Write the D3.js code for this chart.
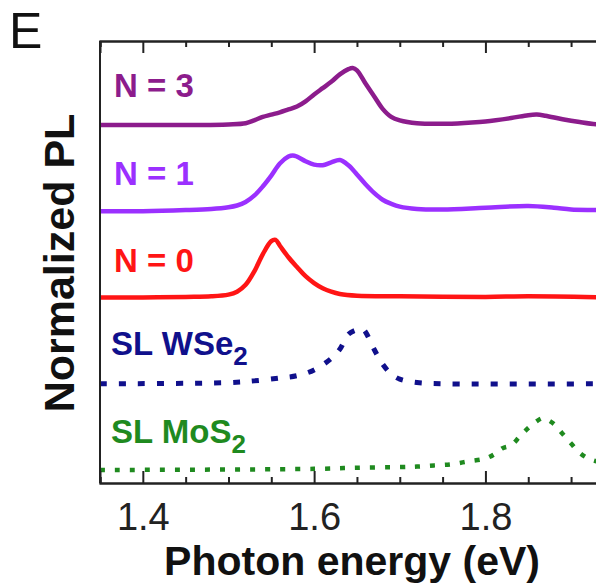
<!DOCTYPE html>
<html>
<head>
<meta charset="utf-8">
<script src="https://cdn.jsdelivr.net/npm/d3@7"></script>
<style>
  html, body { margin: 0; padding: 0; background: #fff; }
  svg { display: block; font-family: "Liberation Sans", Arial, sans-serif; }
</style>
</head>
<body>
<div id="container"></div>
<script>
// photon energy (eV) and normalized PL for each spectrum
var eN3 = [1.35, 1.45, 1.50, 1.52, 1.53, 1.54, 1.55, 1.56, 1.57, 1.58, 1.59, 1.60, 1.61, 1.62, 1.63, 1.64, 1.645, 1.65, 1.66, 1.67, 1.68, 1.69, 1.70, 1.72, 1.75, 1.78, 1.80, 1.83, 1.85, 1.86, 1.87, 1.89, 1.91, 1.93, 1.95];
var pN3 = [0.0, 0.0, 0.01, 0.03, 0.08, 0.14, 0.18, 0.22, 0.27, 0.32, 0.41, 0.53, 0.64, 0.75, 0.88, 0.97, 0.99, 0.95, 0.72, 0.50, 0.28, 0.14, 0.08, 0.03, 0.02, 0.04, 0.06, 0.12, 0.17, 0.18, 0.16, 0.10, 0.05, 0.01, 0.0];

var eN1 = [1.35, 1.40, 1.45, 1.48, 1.50, 1.51, 1.52, 1.53, 1.54, 1.55, 1.56, 1.57, 1.575, 1.58, 1.59, 1.60, 1.61, 1.62, 1.63, 1.64, 1.65, 1.66, 1.67, 1.68, 1.69, 1.70, 1.72, 1.75, 1.80, 1.85, 1.88, 1.90, 1.93, 1.95];
var pN1 = [0.0, 0.0, 0.02, 0.04, 0.07, 0.10, 0.16, 0.27, 0.43, 0.62, 0.83, 0.95, 0.97, 0.95, 0.87, 0.81, 0.80, 0.85, 0.89, 0.80, 0.64, 0.47, 0.32, 0.20, 0.13, 0.08, 0.04, 0.03, 0.06, 0.09, 0.06, 0.03, 0.02, 0.01];

var eN0 = [1.35, 1.40, 1.45, 1.48, 1.50, 1.51, 1.52, 1.53, 1.54, 1.55, 1.555, 1.56, 1.57, 1.58, 1.59, 1.60, 1.61, 1.62, 1.63, 1.65, 1.70, 1.80, 1.85, 1.95];
var pN0 = [0.0, 0.0, 0.01, 0.02, 0.05, 0.10, 0.22, 0.45, 0.75, 0.98, 1.0, 0.90, 0.70, 0.53, 0.37, 0.25, 0.16, 0.10, 0.06, 0.03, 0.02, 0.01, 0.02, 0.0];

var eWSe2 = [1.35, 1.50, 1.53, 1.56, 1.58, 1.60, 1.62, 1.63, 1.64, 1.65, 1.656, 1.66, 1.67, 1.68, 1.69, 1.70, 1.72, 1.75, 1.95];
var pWSe2 = [0.0, 0.02, 0.05, 0.10, 0.14, 0.24, 0.44, 0.60, 0.86, 0.94, 0.96, 0.90, 0.60, 0.34, 0.17, 0.08, 0.02, 0.0, 0.0];

var eMoS2 = [1.35, 1.60, 1.65, 1.70, 1.72, 1.74, 1.76, 1.78, 1.80, 1.81, 1.82, 1.83, 1.84, 1.85, 1.86, 1.866, 1.87, 1.88, 1.89, 1.90, 1.91, 1.92, 1.93, 1.94, 1.95];
var pMoS2 = [0.0, 0.02, 0.04, 0.05, 0.06, 0.08, 0.10, 0.15, 0.20, 0.27, 0.38, 0.43, 0.58, 0.73, 0.85, 0.90, 0.89, 0.80, 0.63, 0.46, 0.30, 0.20, 0.15, 0.10, 0.07];

var majorTicks = [1.4, 1.6, 1.8];
var minorTicks = [1.35, 1.45, 1.5, 1.55, 1.65, 1.7, 1.75, 1.85, 1.9];

var series = [
    { name: "N = 3", sub: "", e: eN3, p: pN3, offset: 6, color: "#8c1c8c", dash: null, w: 4.5 },
    { name: "N = 1", sub: "", e: eN1, p: pN1, offset: 4.5, color: "#9b30ff", dash: null, w: 4.5 },
    { name: "N = 0", sub: "", e: eN0, p: pN0, offset: 3, color: "#ff1515", dash: null, w: 4.5 },
    { name: "SL WSe", sub: "2", e: eWSe2, p: pWSe2, offset: 1.5, color: "#10108c", dash: "7,12", w: 5 },
    { name: "SL MoS", sub: "2", e: eMoS2, p: pMoS2, offset: 0, color: "#1f8a1f", dash: "5,10", w: 4.5 }
];
var labelY = [97, 185, 272, 355, 443];

var width = 596, height = 586;
var mLeft = 100, mTop = 41, mBottom = 483;

var x = d3.scaleLinear().domain([1.35, 1.95]).range([mLeft, mLeft + 0.6 * 856.5]);
var y = d3.scaleLinear().domain([-0.226, 7.46]).range([mBottom, mTop]);

var svg = d3.select('#container').append('svg').attr('width', width).attr('height', height);

svg.append('defs').append('clipPath').attr('id', 'plot')
    .append('rect').attr('x', mLeft).attr('y', mTop).attr('width', width - mLeft).attr('height', mBottom - mTop);

var line = d3.line().curve(d3.curveCatmullRom.alpha(0.5));

var plot = svg.append('g').attr('clip-path', 'url(#plot)');
series.forEach(function (s) {
    var pts = s.e.map(function (e, i) { return [x(e), y(s.p[i] + s.offset)]; });
    var path = plot.append('path').attr('d', line(pts))
        .attr('fill', 'none').attr('stroke', s.color)
        .attr('stroke-width', s.w).attr('stroke-linejoin', 'round');
    if (s.dash) {
        path.attr('stroke-dasharray', s.dash);
    } else {
        path.attr('stroke-linecap', 'round');
    }
});

// labels
series.forEach(function (s, i) {
    var t = svg.append('text').attr('x', s.sub ? 111 : 114).attr('y', labelY[i])
        .attr('fill', s.color).attr('font-weight', 'bold').attr('font-size', 33)
        .text(s.name);
    if (s.sub) {
        t.append('tspan').attr('font-size', 26).attr('dy', 10).text(s.sub);
    }
});

// axes (ticks point inward)
var xAxis = d3.axisBottom(x).tickValues(majorTicks).tickSize(-12).tickPadding(20).tickFormat(d3.format('.1f'));
var xMinor = d3.axisBottom(x).tickValues(minorTicks).tickSize(-6).tickFormat('');
var tAxis = d3.axisTop(x).tickValues(majorTicks).tickSize(-12).tickFormat('');
var tMinor = d3.axisTop(x).tickValues(minorTicks).tickSize(-6).tickFormat('');

[svg.append('g').attr('transform', 'translate(0,' + mBottom + ')').call(xAxis),
 svg.append('g').attr('transform', 'translate(0,' + mBottom + ')').call(xMinor),
 svg.append('g').attr('transform', 'translate(0,' + mTop + ')').call(tAxis),
 svg.append('g').attr('transform', 'translate(0,' + mTop + ')').call(tMinor)].forEach(function (g) {
    g.selectAll('.domain').attr('stroke', '#222').attr('stroke-width', 2);
    g.selectAll('.tick line').attr('stroke', '#222').attr('stroke-width', 2);
    g.selectAll('.tick text').attr('font-size', 38).attr('fill', '#222')
        .attr('font-family', '"Liberation Sans", Arial, sans-serif');
});

svg.append('line').attr('x1', mLeft).attr('x2', mLeft).attr('y1', mTop).attr('y2', mBottom)
    .attr('stroke', '#222').attr('stroke-width', 2);

// axis titles
svg.append('text').attr('x', 352).attr('y', 575).attr('text-anchor', 'middle')
    .attr('font-weight', 'bold').attr('font-size', 41).attr('fill', '#111')
    .text('Photon energy (eV)');
svg.append('text').attr('transform', 'translate(74,263) rotate(-90)').attr('text-anchor', 'middle')
    .attr('font-weight', 'bold').attr('font-size', 43).attr('fill', '#111')
    .text('Normalized PL');
svg.append('text').attr('x', 9).attr('y', 48).attr('font-size', 50).attr('fill', '#111').text('E');
</script>
</body>
</html>
